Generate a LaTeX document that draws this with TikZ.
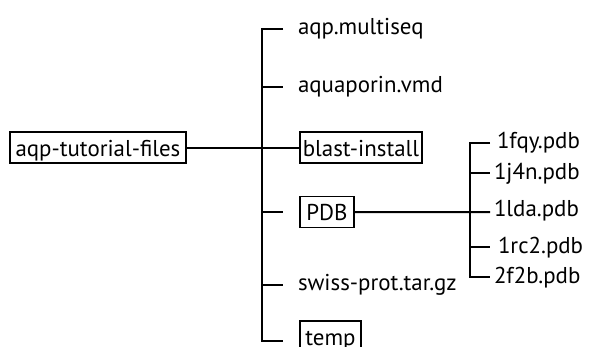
\documentclass[tikz,border=0pt]{standalone}
\usepackage{fontspec}
\setmainfont{PT Sans}
\begin{document}
\begin{tikzpicture}[x=1bp, y=-1bp, line width=2bp,
  lbl/.style={font=\fontsize{23}{27}\selectfont, inner sep=0pt, anchor=base west},
  dirbox/.style={draw, line width=1.9bp, font=\fontsize{23}{27}\selectfont,
    text height=21bp, text depth=4bp, inner ysep=3bp, inner xsep=0pt, anchor=base west}]
\clip (0,0) rectangle (590,346);
\fill[white] (0,0) rectangle (590,346);

% root folder and its subfolders
\node[dirbox, minimum width=176bp] (root) at (9,156) {aqp-tutorial-files};
\node[dirbox, minimum width=122bp] (blast) at (299,156) {blast-install};
\node[dirbox, minimum width=54bp] (pdb) at (299,220.5) {PDB};
\node[dirbox, minimum width=61bp] (temp) at (299,345) {temp};

% plain files in the root folder
\node[lbl] (multiseq) at (297,34) {aqp.multiseq};
\node[lbl] (vmd) at (297,92) {aquaporin.vmd};
\node[lbl] (swiss) at (297,290) {swiss-prot.tar.gz};

% files in PDB
\node[lbl] (f1) at (496,148) {1fqy.pdb};
\node[lbl] (f2) at (493,179) {1j4n.pdb};
\node[lbl] (f3) at (493,216) {1lda.pdb};
\node[lbl] (f4) at (497,253) {1rc2.pdb};
\node[lbl] (f5) at (493,283) {2f2b.pdb};

% main trunk
\coordinate (t1) at (262,29);  \coordinate (e1) at (283,29);
\coordinate (t2) at (262,87);  \coordinate (e2) at (283,87);
\coordinate (t4) at (262,212); \coordinate (e4) at (283,212);
\coordinate (t5) at (262,285); \coordinate (e5) at (283,285);
\coordinate (t6) at (262,341); \coordinate (e6) at (283,341);
\draw (e1) -- (t1) -- (t6) -- (e6);
\draw (t2) -- (e2);
\draw (t4) -- (e4);
\draw (t5) -- (e5);
\draw (root) -- (blast);

% PDB trunk
\coordinate (p1) at (470,143); \coordinate (q1) at (490,143);
\coordinate (p2) at (470,173); \coordinate (q2) at (490,173);
\coordinate (q3) at (490,212);
\coordinate (p4) at (470,247); \coordinate (q4) at (490,247);
\coordinate (p5) at (470,277); \coordinate (q5) at (490,277);
\draw (q1) -- (p1) -- (p5) -- (q5);
\draw (p2) -- (q2);
\draw (p4) -- (q4);
\draw (pdb.east) -- (q3);
\end{tikzpicture}
\end{document}
